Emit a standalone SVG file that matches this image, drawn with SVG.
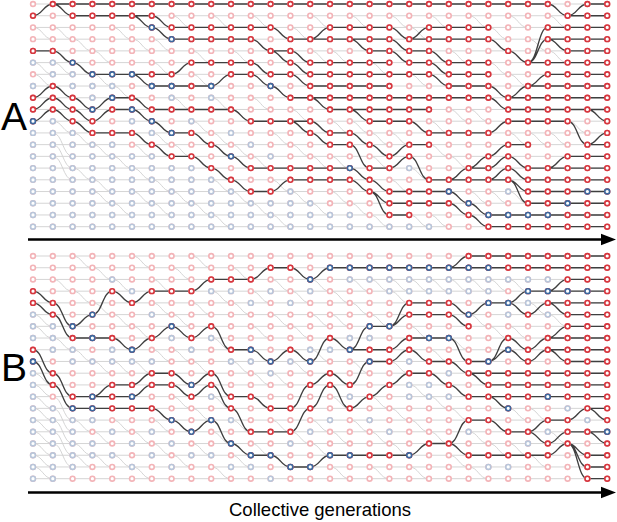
<svg xmlns="http://www.w3.org/2000/svg" width="617" height="522" viewBox="0 0 617 522">
<style>
.s{fill:none;vector-effect:non-scaling-stroke}
.f{stroke:#d0d0d0;stroke-width:0.9}
.k{stroke:#3f3f3f;stroke-width:1.35}
.d{stroke-dasharray:0.001 11.719;stroke-linecap:round;stroke-width:6.4;fill:none}
.lr{stroke:#f3b4b8}
.lb{stroke:#b8c6da}
.dr{stroke:#d6363e}
.db{stroke:#3c699f}
.w{stroke:#ffffff;stroke-width:3.2}
.ax{stroke:#000;stroke-width:2.4;fill:none}
.t{font-family:"Liberation Sans",Arial,sans-serif;fill:#000}
</style>
<defs>
<path id="grid" class="s" d="M0 0V19.01M1 0V19.01M2 0V19.01M3 0V19.01M4 0V19.01M5 0V19.01M6 0V19.01M7 0V19.01M8 0V19.01M9 0V19.01M10 0V19.01M11 0V19.01M12 0V19.01M13 0V19.01M14 0V19.01M15 0V19.01M16 0V19.01M17 0V19.01M18 0V19.01M19 0V19.01M20 0V19.01M21 0V19.01M22 0V19.01M23 0V19.01M24 0V19.01M25 0V19.01M26 0V19.01M27 0V19.01M28 0V19.01M29 0V19.01"/>
<path id="rows" class="s" d="M0 0H29M0 1H29M0 2H29M0 3H29M0 4H29M0 5H29M0 6H29M0 7H29M0 8H29M0 9H29M0 10H29M0 11H29M0 12H29M0 13H29M0 14H29M0 15H29M0 16H29M0 17H29M0 18H29M0 19H29"/>
</defs>
<rect width="617" height="522" fill="#fff"/>
<g id="panelA" transform="translate(33 4) scale(19.8 11.72)">
<g id="panelA-connectors">
<use href="#rows" class="f"/>
<path class="s f" d="M0 2c.5 0 .5 1 1 1M0 5c.5 0 .5 1 1 1M0 6c.5 0 .5 1 1 1M1 2c.5 0 .5 1 1 1M1 5c.5 0 .5 1 1 1M1 10c.5 0 .5 1 1 1M1 11c.5 0 .5 2 1 2M1 12c.5 0 .5 2 1 2M1 13c.5 0 .5 2 1 2M2 3c.5 0 .5 1 1 1M2 11c.5 0 .5 1 1 1M2 14c.5 0 .5 1 1 1M3 4c.5 0 .5 1 1 1M3 6c.5 0 .5 1 1 1M3 12c.5 0 .5 1 1 1M3 15c.5 0 .5 1 1 1M3 16c.5 0 .5 1 1 1M4 2c.5 0 .5 1 1 1M4 7c.5 0 .5 1 1 1M4 13c.5 0 .5 1 1 1M4 17c.5 0 .5 1 1 1M5 3c.5 0 .5 1 1 1M5 12c.5 0 .5 1 1 1M5 14c.5 0 .5 1 1 1M5 16c.5 0 .5 1 1 1M6 3c.5 0 .5 1 1 1M6 5c.5 0 .5 1 1 1M6 11c.5 0 .5 1 1 1M6 15c.5 0 .5 1 1 1M6 17c.5 0 .5 1 1 1M7 1c.5 0 .5 1 1 1M7 8c.5 0 .5 1 1 1M7 12c.5 0 .5 1 1 1M7 16c.5 0 .5 1 1 1M8 4c.5 0 .5 1 1 1M8 6c.5 0 .5 1 1 1M8 10c.5 0 .5 1 1 1M8 13c.5 0 .5 1 1 1M8 17c.5 0 .5 1 1 1M9 1c.5 0 .5 1 1 1M9 8c.5 0 .5 1 1 1M9 11c.5 0 .5 1 1 1M9 15c.5 0 .5 1 1 1M9 18c.5 0 .5 1 1 1M10 4c.5 0 .5 1 1 1M10 9c.5 0 .5 1 1 1M10 12c.5 0 .5 1 1 1M10 16c.5 0 .5 1 1 1M11 1c.5 0 .5 1 1 1M11 5c.5 0 .5 1 1 1M11 8c.5 0 .5 1 1 1M11 13c.5 0 .5 1 1 1M11 17c.5 0 .5 1 1 1M12 7c.5 0 .5 1 1 1M12 11c.5 0 .5 1 1 1M12 15c.5 0 .5 1 1 1M12 18c.5 0 .5 1 1 1M13 2c.5 0 .5 1 1 1M13 9c.5 0 .5 1 1 1M13 12c.5 0 .5 1 1 1M13 16c.5 0 .5 1 1 1M14 1c.5 0 .5 1 1 1M14 4c.5 0 .5 1 1 1M14 13c.5 0 .5 1 1 1M14 17c.5 0 .5 1 1 1M15 4c.5 0 .5 1 1 1M15 10c.5 0 .5 1 1 1M15 13c.5 0 .5 1 1 1M15 16c.5 0 .5 1 1 1M16 1c.5 0 .5 1 1 1M16 10c.5 0 .5 1 1 1M16 17c.5 0 .5 1 1 1M17 5c.5 0 .5 1 1 1M17 11c.5 0 .5 1 1 1M17 13c.5 0 .5 1 1 1M17 18c.5 0 .5 1 1 1M18 1c.5 0 .5 1 1 1M18 11c.5 0 .5 1 1 1M18 15c.5 0 .5 1 1 1M19 2c.5 0 .5 1 1 1M19 6c.5 0 .5 1 1 1M19 14c.5 0 .5 1 1 1M19 18c.5 0 .5 1 1 1M20 1c.5 0 .5 1 1 1M20 10c.5 0 .5 1 1 1M20 12c.5 0 .5 1 1 1M20 18c.5 0 .5 1 1 1M21 4c.5 0 .5 1 1 1M21 9c.5 0 .5 1 1 1M21 13c.5 0 .5 1 1 1M22 1c.5 0 .5 1 1 1M22 9c.5 0 .5 1 1 1M22 16c.5 0 .5 1 1 1M23 2c.5 0 .5 1 1 1M23 5c.5 0 .5 1 1 1M23 16c.5 0 .5 1 1 1M24 1c.5 0 .5 1 1 1M24 6c.5 0 .5 1 1 1M24 11c.5 0 .5 1 1 1M24 16c.5 0 .5 1 1 1M25 3c.5 0 .5 1 1 1M25 11c.5 0 .5 1 1 1M26 1c.5 0 .5 1 1 1M26 4c.5 0 .5 1 1 1M26 11c.5 0 .5 1 1 1M27 10c.5 0 .5 1 1 1"/>
<path class="s k" d="M0 1c.5 0 .5 -1 1 -1M0 4h1M0 8c.5 0 .5 -1 1 -1M0 9c.5 0 .5 -1 1 -1M0 10c.5 0 .5 -1 1 -1
M1 0h1M1 0c.5 0 .5 1 1 1M1 4c.5 0 .5 1 1 1M1 7c.5 0 .5 1 1 1M1 8c.5 0 .5 1 1 1M1 9c.5 0 .5 1 1 1
M2 0h1M2 1h1M2 5c.5 0 .5 1 1 1M2 8c.5 0 .5 1 1 1M2 9c.5 0 .5 1 1 1M2 10c.5 0 .5 1 1 1
M3 0h1M3 1h1M3 6h1M3 9c.5 0 .5 -1 1 -1M3 10c.5 0 .5 -1 1 -1M3 11h1
M4 0h1M4 1h1M4 6h1M4 8h1M4 9h1M4 11h1
M5 0h1M5 1h1M5 1c.5 0 .5 1 1 1M5 6h1M5 6c.5 0 .5 1 1 1M5 8c.5 0 .5 1 1 1M5 9c.5 0 .5 1 1 1M5 11c.5 0 .5 1 1 1
M6 0h1M6 1c.5 0 .5 1 1 1M6 2c.5 0 .5 1 1 1M6 6h1M6 7h1M6 9h1M6 10c.5 0 .5 1 1 1M6 12c.5 0 .5 1 1 1
M7 0h1M7 2h1M7 3h1M7 6c.5 0 .5 -1 1 -1M7 7h1M7 9h1M7 11h1M7 13h1
M8 0h1M8 2h1M8 3h1M8 5h1M8 7h1M8 9h1M8 11c.5 0 .5 1 1 1M8 13c.5 0 .5 1 1 1
M9 0h1M9 2h1M9 3h1M9 5h1M9 7c.5 0 .5 -1 1 -1M9 9h1M9 12c.5 0 .5 1 1 1M9 14c.5 0 .5 1 1 1
M10 0h1M10 2h1M10 3h1M10 5h1M10 6h1M10 9c.5 0 .5 1 1 1M10 13c.5 0 .5 1 1 1M10 15c.5 0 .5 1 1 1
M11 0h1M11 2h1M11 3c.5 0 .5 1 1 1M11 5c.5 0 .5 1 1 1M11 6c.5 0 .5 1 1 1M11 10h1M11 14h1M11 16h1
M12 0h1M12 2c.5 0 .5 1 1 1M12 4h1M12 4c.5 0 .5 1 1 1M12 6h1M12 7c.5 0 .5 1 1 1M12 10h1M12 14h1M12 16c.5 0 .5 -1 1 -1
M13 0h1M13 3h1M13 4c.5 0 .5 1 1 1M13 5c.5 0 .5 1 1 1M13 6c.5 0 .5 1 1 1M13 8h1M13 10h1M13 10c.5 0 .5 1 1 1M13 14h1M13 15h1
M14 0h1M14 3c.5 0 .5 -1 1 -1M14 3h1M14 5h1M14 6h1M14 7h1M14 8h1M14 8c.5 0 .5 1 1 1M14 10c.5 0 .5 1 1 1M14 11c.5 0 .5 1 1 1M14 14h1M14 15h1
M15 0h1M15 2h1M15 3h1M15 5h1M15 6h1M15 7h1M15 8h1M15 9h1M15 11h1M15 12h1M15 14h1M15 15h1
M16 0h1M16 2h1M16 3h1M16 3c.5 0 .5 1 1 1M16 5h1M16 6h1M16 7h1M16 8h1M16 9h1M16 9c.5 0 .5 1 1 1M16 11c.5 0 .5 1 1 1M16 12c.5 0 .5 2 1 2M16 14c.5 0 .5 1 1 1M16 15c.5 0 .5 1 1 1
M17 0h1M17 2h1M17 3h1M17 4h1M17 5h1M17 6h1M17 7h1M17 8h1M17 9h1M17 10h1M17 12c.5 0 .5 1 1 1M17 14h1M17 15c.5 0 .5 1 1 1M17 16c.5 0 .5 1 1 1M17 16c.5 0 .5 2 1 2
M18 0h1M18 2c.5 0 .5 1 1 1M18 3c.5 0 .5 1 1 1M18 4c.5 0 .5 1 1 1M18 6h1M18 8h1M18 9h1M18 10h1M18 13c.5 0 .5 -1 1 -1M18 14c.5 0 .5 -1 1 -1M18 16h1M18 17h1M18 18h1
M19 0h1M19 3c.5 0 .5 -1 1 -1M19 3h1M19 4h1M19 5h1M19 6h1M19 8h1M19 9h1M19 10c.5 0 .5 1 1 1M19 12h1M19 13c.5 0 .5 2 1 2M19 16h1M19 17h1
M20 0h1M20 2h1M20 3h1M20 4c.5 0 .5 1 1 1M20 5c.5 0 .5 1 1 1M20 6c.5 0 .5 1 1 1M20 8h1M20 11h1M20 15h1M20 16h1M20 17h1
M21 0h1M21 2h1M21 3h1M21 5h1M21 6h1M21 7h1M21 8h1M21 11h1M21 15c.5 0 .5 -1 1 -1M21 15h1M21 16c.5 0 .5 1 1 1M21 17c.5 0 .5 1 1 1
M22 0h1M22 2h1M22 3h1M22 5h1M22 6h1M22 7h1M22 8h1M22 11h1M22 14c.5 0 .5 -1 1 -1M22 14h1M22 15h1M22 17c.5 0 .5 1 1 1M22 18c.5 0 .5 1 1 1
M23 0h1M23 3c.5 0 .5 1 1 1M23 7c.5 0 .5 1 1 1M23 8c.5 0 .5 1 1 1M23 11c.5 0 .5 -1 1 -1M23 13c.5 0 .5 -1 1 -1M23 14c.5 0 .5 -1 1 -1M23 15h1M23 15c.5 0 .5 -1 1 -1M23 18h1M23 19h1
M24 0h1M24 4c.5 0 .5 1 1 1M24 8c.5 0 .5 -1 1 -1M24 8h1M24 9h1M24 10h1M24 12h1M24 13c.5 0 .5 1 1 1M24 14c.5 0 .5 1 1 1M24 15c.5 0 .5 1 1 1M24 15c.5 0 .5 2 1 2M24 18h1M24 19h1
M25 0h1M25 5c.5 0 .5 -3 1 -3M25 5c.5 0 .5 -2 1 -2M25 5h1M25 7c.5 0 .5 -1 1 -1M25 7h1M25 8h1M25 9h1M25 10h1M25 14h1M25 15h1M25 16h1M25 17h1M25 18h1M25 19h1
M26 0c.5 0 .5 1 1 1M26 2h1M26 3h1M26 3c.5 0 .5 1 1 1M26 5h1M26 6h1M26 7h1M26 8h1M26 9h1M26 10h1M26 14c.5 0 .5 -1 1 -1M26 14h1M26 15h1M26 16h1M26 17h1M26 18h1M26 19h1
M27 1c.5 0 .5 -1 1 -1M27 1h1M27 2h1M27 3h1M27 4h1M27 5h1M27 6h1M27 7h1M27 8h1M27 9h1M27 10c.5 0 .5 2 1 2M27 13h1M27 14h1M27 15h1M27 16h1M27 17h1M27 18h1M27 19h1
M28 0h1M28 1h1M28 2h1M28 3h1M28 4h1M28 5h1M28 6h1M28 7h1M28 8h1M28 9h1M28 9c.5 0 .5 1 1 1M28 12c.5 0 .5 -1 1 -1M28 12h1M28 13h1M28 14h1M28 15h1M28 16h1M28 17h1M28 18h1M28 19h1"/>
</g>
<g id="panelA-nodes">
<use href="#grid" class="d lr"/>
<path class="s d lb" d="M0 5v.01M0 7v.01M0 11V19.01M1 5V6.01M1 10V19.01M2 6V7.01M2 11V19.01M3 7V8.01M3 12V19.01M4 7v.01M4 12V19.01M5 10v.01M5 13V19.01M6 11v.01M6 13V19.01M7 8v.01M7 14V19.01M8 10v.01M8 14V19.01M9 8v.01M9 15V19.01M10 11v.01M10 16V19.01M11 12v.01M11 17V19.01M12 13v.01M12 17V19.01M13 16V19.01M14 17V19.01M15 18V19.01M16 18V19.01M17 19v.01M18 19v.01M19 14v.01M19 19v.01M20 19v.01M24 16v.01"/>
<path class="s d dr" d="M0 1v.01M0 4v.01M0 8V10.01M1 0v.01M1 4v.01M1 7V9.01M2 0V1.01M2 5v.01M2 8V10.01M3 0V1.01M3 6v.01M3 9V11.01M4 0V1.01M4 6v.01M4 8V9.01M4 11v.01M5 0V1.01M5 6v.01M5 8V9.01M5 11v.01M6 0V2.01M6 6V7.01M6 9V10.01M6 12v.01M7 0v.01M7 2V3.01M7 6V7.01M7 9v.01M7 11v.01M7 13v.01M8 0v.01M8 2V3.01M8 5v.01M8 7v.01M8 9v.01M8 11v.01M8 13v.01M9 0v.01M9 2V3.01M9 5v.01M9 7v.01M9 9v.01M9 12v.01M9 14v.01M10 0v.01M10 2V3.01M10 5V6.01M10 9v.01M10 13v.01M10 15v.01M11 0v.01M11 2V3.01M11 5V6.01M11 10v.01M11 14v.01M11 16v.01M12 0v.01M12 2v.01M12 4v.01M12 6V7.01M12 10v.01M12 14v.01M12 16v.01M13 0v.01M13 3V6.01M13 8v.01M13 10v.01M13 14V15.01M14 0v.01M14 3v.01M14 5V8.01M14 10V11.01M14 14V15.01M15 0v.01M15 2V3.01M15 5V9.01M15 11V12.01M15 14V15.01M16 0v.01M16 2V3.01M16 5V9.01M16 11V12.01M16 14V15.01M17 0v.01M17 2V10.01M17 12v.01M17 14V16.01M18 0v.01M18 2V10.01M18 13V14.01M18 16V18.01M19 0v.01M19 3V6.01M19 8V10.01M19 12V13.01M19 16V18.01M20 0v.01M20 2V6.01M20 8V9.01M20 11V12.01M20 15V17.01M21 0v.01M21 2V3.01M21 5V8.01M21 11v.01M21 15V17.01M22 0v.01M22 2V3.01M22 5V8.01M22 11v.01M22 14V15.01M22 17V18.01M23 0v.01M23 2V3.01M23 5V8.01M23 11v.01M23 13V15.01M23 18V19.01M24 0v.01M24 4v.01M24 8V10.01M24 12V15.01M24 18V19.01M25 0v.01M25 5v.01M25 7V10.01M25 12v.01M25 14V19.01M26 0v.01M26 2V3.01M26 5V10.01M26 14V19.01M27 1V10.01M27 13V19.01M28 0V9.01M28 12V19.01M29 0V19.01"/>
<path class="s d db" d="M0 10v.01M2 5v.01M3 6v.01M3 9v.01M4 6v.01M4 8v.01M5 6v.01M5 9v.01M6 2v.01M6 7v.01M6 10v.01M7 3v.01M7 7v.01M7 11v.01M9 7v.01M10 13v.01M12 7v.01M16 14v.01M21 16v.01M22 17v.01M23 18v.01M24 18v.01M25 18v.01M26 18v.01M27 17v.01M28 16v.01M29 16v.01"/>
<use href="#grid" class="d w"/>
</g>
</g>
<g id="panelB" transform="translate(33 256) scale(19.8 11.72)">
<g id="panelB-connectors">
<use href="#rows" class="f"/>
<path class="s f" d="M0 5c.5 0 .5 1 1 1M0 6c.5 0 .5 1 1 1M0 10c.5 0 .5 1 1 1M0 11c.5 0 .5 1 1 1M0 12c.5 0 .5 1 1 1M0 13c.5 0 .5 1 1 1M0 14c.5 0 .5 1 1 1M0 15c.5 0 .5 1 1 1M0 16c.5 0 .5 1 1 1M0 17c.5 0 .5 1 1 1M0 18c.5 0 .5 1 1 1M1 2c.5 0 .5 1 1 1M1 7c.5 0 .5 1 1 1M1 12c.5 0 .5 2 1 2M1 13c.5 0 .5 2 1 2M1 14c.5 0 .5 2 1 2M1 15c.5 0 .5 2 1 2M1 16c.5 0 .5 2 1 2M2 0c.5 0 .5 1 1 1M2 3c.5 0 .5 1 1 1M2 8c.5 0 .5 1 1 1M2 14c.5 0 .5 1 1 1M2 16c.5 0 .5 1 1 1M2 17c.5 0 .5 1 1 1M3 1c.5 0 .5 1 1 1M3 4c.5 0 .5 1 1 1M3 9c.5 0 .5 1 1 1M3 15c.5 0 .5 1 1 1M3 17c.5 0 .5 1 1 1M4 2c.5 0 .5 1 1 1M4 5c.5 0 .5 1 1 1M4 9c.5 0 .5 1 1 1M4 14c.5 0 .5 1 1 1M4 17c.5 0 .5 1 1 1M5 0c.5 0 .5 1 1 1M5 6c.5 0 .5 1 1 1M5 9c.5 0 .5 1 1 1M5 15c.5 0 .5 1 1 1M5 18c.5 0 .5 1 1 1M6 2c.5 0 .5 1 1 1M6 4c.5 0 .5 1 1 1M6 8c.5 0 .5 1 1 1M6 14c.5 0 .5 1 1 1M6 16c.5 0 .5 1 1 1M7 1c.5 0 .5 1 1 1M7 5c.5 0 .5 1 1 1M7 8c.5 0 .5 1 1 1M7 12c.5 0 .5 1 1 1M7 17c.5 0 .5 1 1 1M8 0c.5 0 .5 1 1 1M8 4c.5 0 .5 1 1 1M8 9c.5 0 .5 1 1 1M8 13c.5 0 .5 1 1 1M8 16c.5 0 .5 1 1 1M9 3c.5 0 .5 1 1 1M9 7c.5 0 .5 1 1 1M9 12c.5 0 .5 1 1 1M9 15c.5 0 .5 1 1 1M9 18c.5 0 .5 1 1 1M10 1c.5 0 .5 1 1 1M10 4c.5 0 .5 1 1 1M10 9c.5 0 .5 1 1 1M10 14c.5 0 .5 1 1 1M10 17c.5 0 .5 1 1 1M11 3c.5 0 .5 1 1 1M11 6c.5 0 .5 1 1 1M11 10c.5 0 .5 1 1 1M11 16c.5 0 .5 1 1 1M12 2c.5 0 .5 1 1 1M12 5c.5 0 .5 1 1 1M12 10c.5 0 .5 1 1 1M12 14c.5 0 .5 1 1 1M12 17c.5 0 .5 1 1 1M13 3c.5 0 .5 1 1 1M13 6c.5 0 .5 1 1 1M13 9c.5 0 .5 1 1 1M13 15c.5 0 .5 1 1 1M14 2c.5 0 .5 1 1 1M14 5c.5 0 .5 1 1 1M14 8c.5 0 .5 1 1 1M14 14c.5 0 .5 1 1 1M14 16c.5 0 .5 1 1 1M15 3c.5 0 .5 1 1 1M15 5c.5 0 .5 1 1 1M15 12c.5 0 .5 1 1 1M15 15c.5 0 .5 1 1 1M15 18c.5 0 .5 1 1 1M16 2c.5 0 .5 1 1 1M16 4c.5 0 .5 1 1 1M16 9c.5 0 .5 1 1 1M16 14c.5 0 .5 1 1 1M17 2c.5 0 .5 1 1 1M17 5c.5 0 .5 1 1 1M17 12c.5 0 .5 1 1 1M17 15c.5 0 .5 1 1 1M17 18c.5 0 .5 1 1 1M18 2c.5 0 .5 1 1 1M18 3c.5 0 .5 1 1 1M18 9c.5 0 .5 1 1 1M18 13c.5 0 .5 1 1 1M18 16c.5 0 .5 1 1 1M19 2c.5 0 .5 1 1 1M19 6c.5 0 .5 1 1 1M19 11c.5 0 .5 1 1 1M19 14c.5 0 .5 1 1 1M19 18c.5 0 .5 1 1 1M20 2c.5 0 .5 1 1 1M20 8c.5 0 .5 1 1 1M20 12c.5 0 .5 1 1 1M20 15c.5 0 .5 1 1 1M21 2c.5 0 .5 1 1 1M21 7c.5 0 .5 1 1 1M21 13c.5 0 .5 1 1 1M21 17c.5 0 .5 1 1 1M22 2c.5 0 .5 1 1 1M22 5c.5 0 .5 1 1 1M22 15c.5 0 .5 1 1 1M22 18c.5 0 .5 1 1 1M23 2c.5 0 .5 1 1 1M23 6c.5 0 .5 1 1 1M23 14c.5 0 .5 1 1 1M23 16c.5 0 .5 1 1 1M24 2c.5 0 .5 1 1 1M24 6c.5 0 .5 1 1 1M24 13c.5 0 .5 1 1 1M24 16c.5 0 .5 1 1 1M25 4c.5 0 .5 1 1 1M25 13c.5 0 .5 1 1 1M25 17c.5 0 .5 1 1 1M26 5c.5 0 .5 1 1 1M26 15c.5 0 .5 1 1 1"/>
<path class="s k" d="M0 3c.5 0 .5 1 1 1M0 4c.5 0 .5 1 1 1M0 8c.5 0 .5 2 1 2M0 9c.5 0 .5 2 1 2
M1 4c.5 0 .5 2 1 2M1 5c.5 0 .5 2 1 2M1 10c.5 0 .5 2 1 2M1 11c.5 0 .5 2 1 2
M2 6c.5 0 .5 -1 1 -1M2 7h1M2 12h1M2 13h1
M3 5c.5 0 .5 -2 1 -2M3 7h1M3 12c.5 0 .5 -1 1 -1M3 12h1M3 13h1
M4 3c.5 0 .5 1 1 1M4 7c.5 0 .5 1 1 1M4 11h1M4 12h1M4 13h1
M5 4c.5 0 .5 -1 1 -1M5 8c.5 0 .5 -1 1 -1M5 11c.5 0 .5 -1 1 -1M5 12c.5 0 .5 -1 1 -1M5 13h1
M6 3h1M6 7c.5 0 .5 -1 1 -1M6 10h1M6 11h1M6 13c.5 0 .5 1 1 1
M7 3h1M7 6c.5 0 .5 1 1 1M7 10c.5 0 .5 1 1 1M7 11c.5 0 .5 1 1 1M7 14c.5 0 .5 1 1 1
M8 3c.5 0 .5 -1 1 -1M8 7c.5 0 .5 -1 1 -1M8 11c.5 0 .5 -1 1 -1M8 12c.5 0 .5 -1 1 -1M8 15c.5 0 .5 -1 1 -1
M9 2h1M9 6c.5 0 .5 2 1 2M9 10c.5 0 .5 2 1 2M9 11c.5 0 .5 2 1 2M9 14c.5 0 .5 2 1 2
M10 2h1M10 8h1M10 12h1M10 13c.5 0 .5 2 1 2M10 16c.5 0 .5 1 1 1
M11 2c.5 0 .5 -1 1 -1M11 8c.5 0 .5 1 1 1M11 12c.5 0 .5 1 1 1M11 15h1M11 17h1
M12 1h1M12 9c.5 0 .5 -1 1 -1M12 13h1M12 15h1M12 17c.5 0 .5 1 1 1
M13 1c.5 0 .5 1 1 1M13 8c.5 0 .5 1 1 1M13 13c.5 0 .5 -2 1 -2M13 15c.5 0 .5 -2 1 -2M13 18h1
M14 2c.5 0 .5 -1 1 -1M14 9c.5 0 .5 -2 1 -2M14 11c.5 0 .5 -1 1 -1M14 13c.5 0 .5 -2 1 -2M14 18c.5 0 .5 -1 1 -1
M15 1h1M15 7c.5 0 .5 1 1 1M15 10c.5 0 .5 1 1 1M15 11c.5 0 .5 2 1 2M15 17h1
M16 1h1M16 8c.5 0 .5 -2 1 -2M16 8h1M16 11c.5 0 .5 -2 1 -2M16 13c.5 0 .5 -1 1 -1M16 17h1
M17 1h1M17 6h1M17 8h1M17 9h1M17 12c.5 0 .5 -1 1 -1M17 17h1
M18 1h1M18 6c.5 0 .5 -2 1 -2M18 6c.5 0 .5 -1 1 -1M18 8c.5 0 .5 -1 1 -1M18 9c.5 0 .5 -1 1 -1M18 11c.5 0 .5 -1 1 -1M18 17h1
M19 1h1M19 4h1M19 5h1M19 7h1M19 8c.5 0 .5 1 1 1M19 10h1M19 17c.5 0 .5 -1 1 -1
M20 1h1M20 4h1M20 5h1M20 7h1M20 9h1M20 10c.5 0 .5 1 1 1M20 16h1
M21 1c.5 0 .5 -1 1 -1M21 1h1M21 4c.5 0 .5 1 1 1M21 5c.5 0 .5 1 1 1M21 7c.5 0 .5 2 1 2M21 9c.5 0 .5 1 1 1M21 11c.5 0 .5 1 1 1M21 16c.5 0 .5 -2 1 -2M21 16c.5 0 .5 1 1 1
M22 0h1M22 1h1M22 5c.5 0 .5 -1 1 -1M22 9h1M22 10h1M22 10c.5 0 .5 1 1 1M22 12h1M22 14h1M22 17h1
M23 0h1M23 1h1M23 4h1M23 9c.5 0 .5 -2 1 -2M23 9c.5 0 .5 -1 1 -1M23 10h1M23 11h1M23 12h1M23 12c.5 0 .5 1 1 1M23 14c.5 0 .5 1 1 1M23 17h1
M24 0h1M24 1h1M24 4c.5 0 .5 -1 1 -1M24 4c.5 0 .5 1 1 1M24 7c.5 0 .5 1 1 1M24 8c.5 0 .5 1 1 1M24 10h1M24 11h1M24 12h1M24 15h1M24 17h1
M25 0h1M25 1h1M25 3h1M25 5c.5 0 .5 -1 1 -1M25 8c.5 0 .5 -1 1 -1M25 9c.5 0 .5 -1 1 -1M25 10h1M25 11h1M25 12h1M25 15c.5 0 .5 -1 1 -1M25 15c.5 0 .5 1 1 1M25 17h1
M26 0h1M26 1h1M26 3c.5 0 .5 -1 1 -1M26 3h1M26 4h1M26 4c.5 0 .5 1 1 1M26 7c.5 0 .5 -1 1 -1M26 7h1M26 8h1M26 8c.5 0 .5 1 1 1M26 10h1M26 11h1M26 12h1M26 14h1M26 16c.5 0 .5 -1 1 -1M26 17c.5 0 .5 -1 1 -1
M27 0h1M27 1h1M27 2h1M27 3h1M27 4h1M27 5h1M27 6h1M27 7h1M27 8h1M27 9h1M27 10h1M27 11h1M27 12h1M27 14c.5 0 .5 -1 1 -1M27 15h1M27 16c.5 0 .5 1 1 1M27 16c.5 0 .5 2 1 2M27 16c.5 0 .5 3 1 3
M28 0h1M28 1h1M28 2h1M28 3h1M28 4h1M28 5h1M28 6h1M28 7h1M28 8h1M28 9h1M28 10h1M28 11h1M28 12h1M28 13h1M28 13c.5 0 .5 1 1 1M28 15h1M28 15c.5 0 .5 1 1 1M28 17h1M28 18h1M28 19h1"/>
</g>
<g id="panelB-nodes">
<use href="#grid" class="d lr"/>
<path class="s d lb" d="M0 5V7.01M0 10V19.01M1 6V8.01M1 13V19.01M2 8V9.01M2 14V18.01M3 9v.01M3 14v.01M3 16V17.01M4 2v.01M4 8V9.01M4 15v.01M4 17v.01M5 3v.01M5 9v.01M5 16v.01M5 18v.01M6 5v.01M6 9v.01M6 15v.01M6 17v.01M7 7v.01M7 16v.01M7 18v.01M8 8v.01M8 17v.01M9 3v.01M9 7v.01M9 12v.01M9 17v.01M10 3v.01M10 9v.01M10 14v.01M10 18v.01M11 4v.01M11 9v.01M11 18v.01M12 3v.01M12 10v.01M12 19v.01M13 4v.01M13 9v.01M13 16v.01M14 3v.01M14 8v.01M14 15v.01M15 8v.01M15 14v.01M16 2v.01M16 7v.01M16 12v.01M17 2v.01M17 7v.01M17 14v.01M18 2V3.01M18 15v.01M19 2V3.01M19 9v.01M19 11V12.01M20 2V3.01M20 11V12.01M21 2V3.01M21 10v.01M21 12v.01M22 2V3.01M22 15v.01M23 2V3.01M23 18v.01M24 2v.01M24 5v.01M24 18v.01M25 2v.01M25 4v.01M25 16v.01M26 2v.01M26 5v.01M26 15v.01M27 13v.01M28 14v.01"/>
<path class="s d dr" d="M0 3V4.01M0 8V9.01M1 4V5.01M1 10V11.01M2 6V7.01M2 12V13.01M3 5v.01M3 7v.01M3 12V13.01M4 3v.01M4 7v.01M4 11V13.01M5 4v.01M5 8v.01M5 11V13.01M6 3v.01M6 7v.01M6 10V11.01M6 13v.01M7 3v.01M7 6v.01M7 10V11.01M7 14v.01M8 3v.01M8 7v.01M8 11V12.01M8 15v.01M9 2v.01M9 6v.01M9 10V11.01M9 14v.01M10 2v.01M10 8v.01M10 12V13.01M10 16v.01M11 2v.01M11 8v.01M11 12v.01M11 15v.01M11 17v.01M12 1v.01M12 9v.01M12 13v.01M12 15v.01M12 17v.01M13 1v.01M13 8v.01M13 13v.01M13 15v.01M13 18v.01M14 2v.01M14 9v.01M14 11v.01M14 13v.01M14 18v.01M15 1v.01M15 7v.01M15 10V11.01M15 17v.01M16 1v.01M16 8v.01M16 11v.01M16 13v.01M16 17v.01M17 1v.01M17 6v.01M17 8V9.01M17 12v.01M17 17v.01M18 1v.01M18 6v.01M18 8V9.01M18 11v.01M18 17v.01M19 1v.01M19 4V5.01M19 7V8.01M19 10v.01M19 17v.01M20 1v.01M20 4V5.01M20 7v.01M20 9V10.01M20 16v.01M21 1v.01M21 4V5.01M21 7v.01M21 9v.01M21 11v.01M21 16v.01M22 0V1.01M22 5V6.01M22 9V10.01M22 12v.01M22 14v.01M22 17v.01M23 0V1.01M23 4v.01M23 9V12.01M23 14v.01M23 17v.01M24 0V1.01M24 4v.01M24 7V8.01M24 10V13.01M24 15v.01M24 17v.01M25 0V1.01M25 3v.01M25 5v.01M25 8V12.01M25 15v.01M25 17v.01M26 0V1.01M26 3V4.01M26 7V8.01M26 10V12.01M26 14v.01M26 16V17.01M27 0V12.01M27 14V16.01M28 0V13.01M28 15v.01M28 17V19.01M29 0V19.01"/>
<path class="s d db" d="M0 9v.01M2 6v.01M2 13v.01M3 5v.01M3 7v.01M3 12V13.01M5 8v.01M5 12v.01M7 6v.01M7 14v.01M8 11v.01M8 15v.01M9 14v.01M10 16v.01M11 8v.01M11 17v.01M12 9v.01M12 17v.01M13 18v.01M14 2v.01M14 9v.01M14 18v.01M15 1v.01M15 17v.01M16 1v.01M16 8v.01M16 17v.01M17 1v.01M17 6v.01M17 9v.01M18 1v.01M18 6v.01M19 1v.01M19 17v.01M20 1v.01M20 7v.01M21 1v.01M21 7v.01M22 1v.01M22 5v.01M23 1v.01M23 4v.01M23 9v.01M24 4v.01M24 8v.01M24 13v.01M25 3v.01M26 3v.01M26 12v.01M27 3v.01M28 3v.01M29 15v.01"/>
<use href="#grid" class="d w"/>
</g>
</g>
<g id="axes">
<path class="ax" d="M28 239.5H604M28 492.5H604"/>
<path d="M601 233.7L616 239.5L601 245.3ZM601 486.7L616 492.5L601 498.3Z" fill="#000"/>
</g>
<g id="labels">
<text class="t" x="1" y="130" font-size="39">A</text>
<text class="t" x="1" y="381" font-size="39">B</text>
<text class="t" x="320" y="516" font-size="18.5" text-anchor="middle">Collective generations</text>
</g>
</svg>
